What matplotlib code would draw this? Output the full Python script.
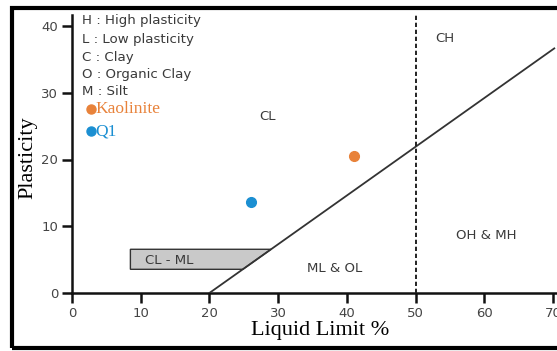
import matplotlib
matplotlib.use("Agg")
import matplotlib.pyplot as plt
from matplotlib.patches import Polygon, Rectangle
import numpy as np

# ---- data ----
samples = ["Kaolinite", "Q1"]
liquid_limit = [41.0, 26.0]
plasticity = [20.5, 13.7]
sample_colors = ["#e8823a", "#1b8fd2"]

x_ticks = [0, 10, 20, 30, 40, 50, 60, 70]
y_ticks = [0, 10, 20, 30, 40]

legend_lines = ["H : High plasticity", "L : Low plasticity", "C : Clay",
                "O : Organic Clay", "M : Silt"]

zone_labels = ["CL", "CH", "OH & MH", "ML & OL"]
zone_x = [28.5, 54.2, 60.3, 38.3]
zone_y = [26.4, 38.1, 8.6, 3.7]

a_line_ll = [20.0, 70.2]
a_slope = 0.73
b_line_ll = 50
clml_ll_start = 8.5
clml_pi = [3.55, 6.55]

W, H = 557, 351
fig = plt.figure(figsize=(W / 100, H / 100), dpi=100)
ax = fig.add_axes([72 / W, (H - 293) / H, (W - 72) / W, (293 - 15) / H])

xmax = (W - 72) / 6.87
ax.set_xlim(0, xmax)
ax.set_ylim(0, (293 - 15) / 6.675)

gray_txt = "#3a3a3a"

# A-line
a_x = np.array(a_line_ll)
ax.plot(a_x, a_slope * (a_x - 20), color="#333333", lw=1.3, zorder=3)

# B-line (LL = 50)
ax.axvline(b_line_ll, color="#222222", lw=1.4, ls=(0, (2.2, 1.4)), zorder=3)

# CL-ML zone
lo, hi = clml_pi
poly = Polygon([(clml_ll_start, lo), (clml_ll_start, hi),
                (20 + hi / a_slope, hi), (20 + lo / a_slope, lo)],
               closed=True, facecolor="#c9c9c9", edgecolor="#333333", lw=1.0, zorder=2)
ax.add_patch(poly)
ax.text(14.1, 4.9, "CL - ML", ha="center", va="center", fontsize=9.5,
        color=gray_txt, family="DejaVu Sans", zorder=4)

for lab, zx, zy in zip(zone_labels, zone_x, zone_y):
    ax.text(zx, zy, lab, ha="center", va="center", fontsize=9.5,
            color=gray_txt, family="DejaVu Sans")

# samples
for s, lx, py, c in zip(samples, liquid_limit, plasticity, sample_colors):
    ax.plot(lx, py, "o", ms=7, color=c, mec=c, zorder=5)

# key text
key_y = [40.75, 38.05, 35.35, 32.8, 30.26]
for t, ky in zip(legend_lines, key_y):
    ax.text(1.45, ky, t, ha="left", va="center", fontsize=9.6,
            color=gray_txt, family="DejaVu Sans")
key_sample_y = [27.6, 24.2]
for s, ky, c in zip(samples, key_sample_y, sample_colors):
    ax.plot(2.7, ky, "o", ms=6.5, color=c, mec=c, clip_on=False, zorder=5)
    ax.text(3.4, ky, s, ha="left", va="center", fontsize=12.5, color=c,
            family="Liberation Serif")

# axes styling
for side in ["top", "right"]:
    ax.spines[side].set_visible(False)
for side in ["left", "bottom"]:
    ax.spines[side].set_linewidth(1.8)
    ax.spines[side].set_color("#111111")
ax.set_xticks(x_ticks)
ax.set_yticks(y_ticks)
ax.tick_params(axis="both", direction="out", length=7, width=1.8, color="#111111",
               labelsize=9.5, labelcolor="#444444", pad=3)
for lab in ax.get_xticklabels() + ax.get_yticklabels():
    lab.set_family("DejaVu Sans")

ax.set_xlabel("Liquid Limit %", family="Liberation Serif", fontsize=16)
ax.xaxis.set_label_coords((320 - 72) / (W - 72), -(321 - 293) / (293 - 15))
ax.set_ylabel("Plasticity", family="Liberation Serif", fontsize=16)
ax.yaxis.set_label_coords(-(72 - 37) / (W - 72), (293 - 158) / (293 - 15))

# figure border (display pixel coords, origin bottom-left)
border = Rectangle((12, H - 347.5), W + 20, 347.5 - 8, transform=None, fill=False,
                   edgecolor="black", lw=3.0)
fig.patches.append(border)

fig.savefig("out.png", dpi=100)
